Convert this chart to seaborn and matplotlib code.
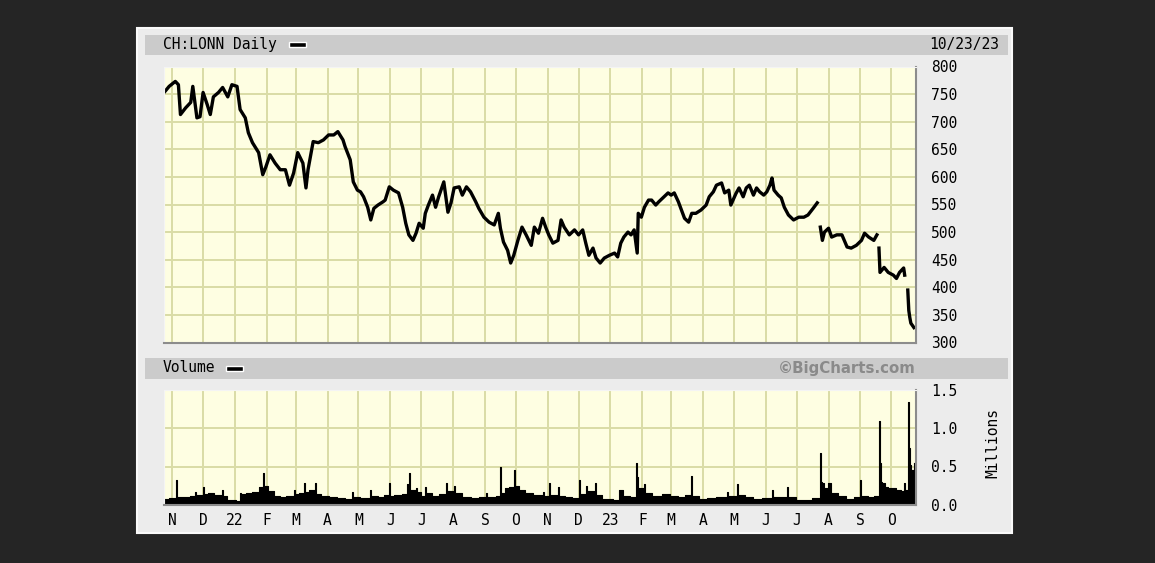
import pandas as pd
import seaborn as sns
import matplotlib.pyplot as plt
from matplotlib.patches import Rectangle

# ---- data ----
price_dates = [
    '2021-10-25', '2021-10-29', '2021-11-04', '2021-11-07', '2021-11-09', '2021-11-14', '2021-11-19',
    '2021-11-21', '2021-11-25', '2021-11-28', '2021-12-01', '2021-12-05', '2021-12-08', '2021-12-11',
    '2021-12-16', '2021-12-20', '2021-12-25', '2021-12-29', '2022-01-03', '2022-01-06', '2022-01-11',
    '2022-01-14', '2022-01-18', '2022-01-21', '2022-01-24', '2022-01-28', '2022-01-31', '2022-02-04',
    '2022-02-09', '2022-02-14', '2022-02-19', '2022-02-23', '2022-02-27', '2022-03-03', '2022-03-08',
    '2022-03-11', '2022-03-13', '2022-03-18', '2022-03-23', '2022-03-28', '2022-04-02', '2022-04-07',
    '2022-04-11', '2022-04-16', '2022-04-18', '2022-04-23', '2022-04-26', '2022-04-30', '2022-05-03',
    '2022-05-06', '2022-05-10', '2022-05-13', '2022-05-16', '2022-05-20', '2022-05-25', '2022-05-27',
    '2022-05-31', '2022-06-04', '2022-06-09', '2022-06-13', '2022-06-16', '2022-06-19', '2022-06-23',
    '2022-06-26', '2022-06-29', '2022-07-03', '2022-07-05', '2022-07-08', '2022-07-12', '2022-07-15',
    '2022-07-18', '2022-07-23', '2022-07-27', '2022-07-30', '2022-08-02', '2022-08-07', '2022-08-10',
    '2022-08-14', '2022-08-18', '2022-08-23', '2022-08-26', '2022-08-31', '2022-09-05', '2022-09-10',
    '2022-09-14', '2022-09-16', '2022-09-19', '2022-09-23', '2022-09-26', '2022-09-29', '2022-10-03',
    '2022-10-07', '2022-10-11', '2022-10-16', '2022-10-19', '2022-10-23', '2022-10-27', '2022-10-30',
    '2022-11-02', '2022-11-06', '2022-11-11', '2022-11-14', '2022-11-17', '2022-11-22', '2022-11-27',
    '2022-12-01', '2022-12-05', '2022-12-08', '2022-12-11', '2022-12-15', '2022-12-18', '2022-12-22',
    '2022-12-26', '2022-12-31', '2023-01-05', '2023-01-08', '2023-01-11', '2023-01-14', '2023-01-18',
    '2023-01-21', '2023-01-24', '2023-01-27', '2023-01-28', '2023-01-31', '2023-02-03', '2023-02-07',
    '2023-02-10', '2023-02-14', '2023-02-17', '2023-02-22', '2023-02-26', '2023-03-01', '2023-03-04',
    '2023-03-08', '2023-03-11', '2023-03-14', '2023-03-18', '2023-03-21', '2023-03-25', '2023-03-30',
    '2023-04-04', '2023-04-07', '2023-04-11', '2023-04-14', '2023-04-19', '2023-04-22', '2023-04-26',
    '2023-04-28', '2023-05-03', '2023-05-06', '2023-05-10', '2023-05-13', '2023-05-16', '2023-05-20',
    '2023-05-23', '2023-05-26', '2023-05-30', '2023-06-02', '2023-06-05', '2023-06-07', '2023-06-09',
    '2023-06-13', '2023-06-16', '2023-06-19', '2023-06-23', '2023-06-28', '2023-07-03', '2023-07-08',
    '2023-07-12', '2023-07-17', '2023-07-21',
    '2023-07-24', '2023-07-26', '2023-07-28', '2023-08-01', '2023-08-04', '2023-08-09', '2023-08-14',
    '2023-08-19', '2023-08-23', '2023-08-28', '2023-09-02', '2023-09-05', '2023-09-09', '2023-09-14',
    '2023-09-17',
    '2023-09-19', '2023-09-20', '2023-09-24', '2023-09-28', '2023-10-03', '2023-10-06', '2023-10-09',
    '2023-10-13', '2023-10-14',
    '2023-10-17', '2023-10-18', '2023-10-19', '2023-10-20', '2023-10-23',
]
price_close = [
    755, 764, 773, 767, 713, 725, 735,
    764, 707, 709, 753, 731, 713, 745,
    753, 762, 745, 767, 764, 722, 707,
    680, 662, 653, 644, 604, 618, 640,
    625, 613, 613, 585, 607, 644, 625,
    580, 613, 664, 662, 667, 676, 676,
    682, 667, 655, 631, 591, 576, 573,
    564, 545, 522, 543, 549, 555, 558,
    582, 576, 571, 545, 516, 495, 485,
    498, 516, 507, 534, 549, 567, 545,
    564, 591, 536, 553, 580, 582, 567,
    582, 573, 555, 543, 527, 518, 513,
    534, 507, 482, 467, 444, 458, 485,
    509, 495, 476, 509, 498, 525, 509,
    495, 480, 485, 522, 509, 495, 504,
    495, 504, 480, 458, 471, 453, 444,
    453, 458, 462, 455, 480, 491, 500,
    495, 504, 462, 534, 527, 545, 558,
    558, 549, 555, 564, 571, 567, 571,
    555, 540, 525, 518, 534, 534, 540,
    549, 564, 573, 585, 589, 571, 576,
    549, 570, 580, 564, 580, 585, 567,
    580, 573, 567, 573, 585, 598, 576,
    567, 562, 545, 531, 522, 527, 527,
    531, 543, 553,
    509, 485, 500, 507, 491, 495, 495,
    473, 471, 476, 485, 498, 491, 485,
    495,
    471, 427, 436, 427, 422, 416, 427,
    435, 422,
    395, 358, 345, 335, 327,
]
# price gaps (line restarts on these days)
gap_starts = ['2023-07-24', '2023-09-19', '2023-10-17']

vol_dates = [
    '2021-10-24', '2021-10-29', '2021-11-05', '2021-11-06', '2021-11-12', '2021-11-18', '2021-11-23',
    '2021-11-24', '2021-12-01', '2021-12-02', '2021-12-06', '2021-12-12', '2021-12-19', '2021-12-20',
    '2021-12-24', '2022-01-02', '2022-01-06', '2022-01-07', '2022-01-12', '2022-01-18', '2022-01-24',
    '2022-01-28', '2022-01-29', '2022-02-02', '2022-02-08', '2022-02-14', '2022-02-20', '2022-02-27',
    '2022-02-28', '2022-03-04', '2022-03-09', '2022-03-10', '2022-03-14', '2022-03-20', '2022-03-21',
    '2022-03-26', '2022-04-02', '2022-04-10', '2022-04-18', '2022-04-25', '2022-04-26', '2022-05-03',
    '2022-05-12', '2022-05-13', '2022-05-20', '2022-05-26', '2022-05-31', '2022-06-01', '2022-06-05',
    '2022-06-12', '2022-06-17', '2022-06-18', '2022-06-19', '2022-06-20', '2022-06-26', '2022-06-27',
    '2022-07-01', '2022-07-05', '2022-07-06', '2022-07-12', '2022-07-18', '2022-07-25', '2022-07-26',
    '2022-08-02', '2022-08-03', '2022-08-10', '2022-08-18', '2022-08-26', '2022-09-02', '2022-09-03',
    '2022-09-08', '2022-09-12', '2022-09-16', '2022-09-17', '2022-09-20', '2022-09-24', '2022-09-29',
    '2022-09-30', '2022-10-04', '2022-10-10', '2022-10-18', '2022-10-27', '2022-10-28', '2022-11-02',
    '2022-11-03', '2022-11-11', '2022-11-12', '2022-11-18', '2022-11-25', '2022-12-01', '2022-12-02',
    '2022-12-08', '2022-12-09', '2022-12-17', '2022-12-18', '2022-12-24', '2023-01-03', '2023-01-09',
    '2023-01-13', '2023-01-20', '2023-01-26', '2023-01-27', '2023-01-28', '2023-02-03', '2023-02-04',
    '2023-02-10', '2023-02-20', '2023-02-28', '2023-03-08', '2023-03-14', '2023-03-20', '2023-03-21',
    '2023-03-28', '2023-04-05', '2023-04-14', '2023-04-24', '2023-04-25', '2023-05-04', '2023-05-05',
    '2023-05-12', '2023-05-20', '2023-05-28', '2023-06-07', '2023-06-08', '2023-06-22', '2023-06-23',
    '2023-06-30', '2023-07-08', '2023-07-16', '2023-07-24', '2023-07-25', '2023-07-26', '2023-07-28',
    '2023-07-31', '2023-08-03', '2023-08-10', '2023-08-18', '2023-08-26', '2023-09-01', '2023-09-02',
    '2023-09-08', '2023-09-14', '2023-09-19', '2023-09-20', '2023-09-21', '2023-09-22', '2023-09-25',
    '2023-09-28', '2023-10-03', '2023-10-06', '2023-10-10', '2023-10-13', '2023-10-14', '2023-10-17',
    '2023-10-18', '2023-10-19', '2023-10-20', '2023-10-23',
]
vol_millions = [
    0.08, 0.09, 0.32, 0.10, 0.10, 0.12, 0.17,
    0.13, 0.24, 0.14, 0.15, 0.13, 0.20, 0.12,
    0.07, 0.05, 0.16, 0.14, 0.15, 0.17, 0.24,
    0.41, 0.25, 0.18, 0.12, 0.10, 0.12, 0.20,
    0.14, 0.15, 0.29, 0.17, 0.20, 0.29, 0.14,
    0.12, 0.11, 0.09, 0.08, 0.17, 0.10, 0.09,
    0.20, 0.12, 0.11, 0.13, 0.28, 0.12, 0.13,
    0.14, 0.27, 0.15, 0.41, 0.20, 0.22, 0.17,
    0.12, 0.24, 0.15, 0.12, 0.14, 0.28, 0.18,
    0.25, 0.15, 0.10, 0.09, 0.10, 0.15, 0.10,
    0.10, 0.12, 0.49, 0.15, 0.22, 0.24, 0.46,
    0.25, 0.20, 0.15, 0.13, 0.17, 0.12, 0.28,
    0.13, 0.24, 0.12, 0.10, 0.09, 0.32, 0.14,
    0.25, 0.18, 0.28, 0.13, 0.08, 0.07, 0.20,
    0.12, 0.11, 0.54, 0.37, 0.22, 0.27, 0.15,
    0.12, 0.14, 0.12, 0.10, 0.13, 0.38, 0.12,
    0.08, 0.09, 0.10, 0.17, 0.12, 0.27, 0.13,
    0.11, 0.08, 0.09, 0.20, 0.10, 0.23, 0.10,
    0.07, 0.07, 0.09, 0.68, 0.30, 0.28, 0.22,
    0.29, 0.16, 0.12, 0.08, 0.10, 0.33, 0.12,
    0.10, 0.12, 1.09, 0.54, 0.30, 0.28, 0.24,
    0.22, 0.22, 0.20, 0.18, 0.28, 0.20, 1.34,
    0.74, 0.52, 0.45, 0.55,
]

month_labels = ['N', 'D', '22', 'F', 'M', 'A', 'M', 'J', 'J', 'A', 'S', 'O',
                'N', 'D', '23', 'F', 'M', 'A', 'M', 'J', 'J', 'A', 'S', 'O']
price_ticks = [300, 350, 400, 450, 500, 550, 600, 650, 700, 750, 800]
vol_ticks = [0.0, 0.5, 1.0, 1.5]

# ---- frames ----
price = pd.DataFrame({'date': pd.to_datetime(price_dates), 'price': price_close})
price['seg'] = sum(price['date'] >= pd.Timestamp(g) for g in gap_starts)
vol = pd.DataFrame({'date': pd.to_datetime(vol_dates), 'vol': vol_millions})
month_starts = pd.date_range('2021-11-01', periods=len(month_labels), freq='MS')
xlim = (pd.Timestamp('2021-10-24'), pd.Timestamp('2023-10-25'))

# ---- styling ----
W, H = 1155, 563
mono = 'DejaVu Sans Mono'
bg = '#fefee2'
grid_col = '#dadca6'

def box(x0, y0, x1, y1):
    return [x0 / W, 1 - y1 / H, (x1 - x0) / W, (y1 - y0) / H]

def rect(x0, y0, x1, y1, **kw):
    l, b, w, h = box(x0, y0, x1, y1)
    fig.patches.append(Rectangle((l, b), w, h, transform=fig.transFigure, zorder=-2, **kw))

fig = plt.figure(figsize=(W / 100, H / 100), dpi=100, facecolor='#252525')
rect(137, 28, 1012, 533, facecolor='#ececec', edgecolor='#fafafa', lw=1.5)
rect(145, 35, 1008, 55, facecolor='#cbcbcb', edgecolor='none')
rect(145, 358, 1008, 379, facecolor='#cbcbcb', edgecolor='none')
rect(289, 42, 306, 47, facecolor='black', edgecolor='white', lw=1)
rect(226, 366, 243, 371, facecolor='black', edgecolor='white', lw=1)

fig.text(163 / W, 1 - 45 / H, 'CH:LONN Daily', family=mono, fontsize=10.5, va='center')
fig.text(999 / W, 1 - 45 / H, '10/23/23', family=mono, fontsize=10.5, va='center', ha='right')
fig.text(163 / W, 1 - 368 / H, 'Volume', family=mono, fontsize=10.5, va='center')
fig.text(916 / W, 1 - 368 / H, '\u00a9BigCharts.com', fontsize=10.8, fontweight='bold',
         color='#8a8a8a', va='center', ha='right')
fig.text(993 / W, 1 - 443 / H, 'Millions', family=mono, fontsize=10.5, va='center',
         ha='center', rotation=90)

ax = fig.add_axes(box(164, 66.5, 916, 342.5))
axv = fig.add_axes(box(164, 389.5, 916, 505))

sns.lineplot(data=price, x='date', y='price', units='seg', estimator=None,
             color='black', lw=2.4, ax=ax, legend=False)
axv.fill_between(list(vol['date']) + [vol['date'].iloc[-1] + pd.Timedelta(days=2)],
                 list(vol['vol']) + [vol['vol'].iloc[-1]], step='post', color='black', lw=0)
sns.lineplot(data=vol, x='date', y='vol', estimator=None, drawstyle='steps-post',
             color='black', lw=0.8, ax=axv)

for a, ticks in [(ax, price_ticks), (axv, vol_ticks)]:
    a.set_facecolor(bg)
    a.set_xlim(*xlim)
    a.set_ylim(ticks[0], ticks[-1])
    a.set_yticks(ticks)
    a.set_xticks(month_starts)
    a.grid(True, color=grid_col, lw=1.4)
    a.set_axisbelow(True)
    a.yaxis.tick_right()
    a.tick_params(length=0, pad=11, labelsize=10.5)
    a.set_xlabel('')
    a.set_ylabel('')
    for s in ['top', 'left']:
        a.spines[s].set_color('#f4f4f4')
    for s in ['bottom', 'right']:
        a.spines[s].set_color('#8c8c8c')
        a.spines[s].set_linewidth(1.5)
    for lab in a.get_yticklabels():
        lab.set_family(mono)

ax.set_xticklabels([])
axv.set_yticklabels(['%.1f' % v for v in vol_ticks])
axv.set_xticklabels(month_labels)
axv.tick_params(axis='x', pad=6)
for lab in axv.get_xticklabels() + axv.get_yticklabels():
    lab.set_family(mono)

fig.savefig('out.png', dpi=100, facecolor=fig.get_facecolor())
